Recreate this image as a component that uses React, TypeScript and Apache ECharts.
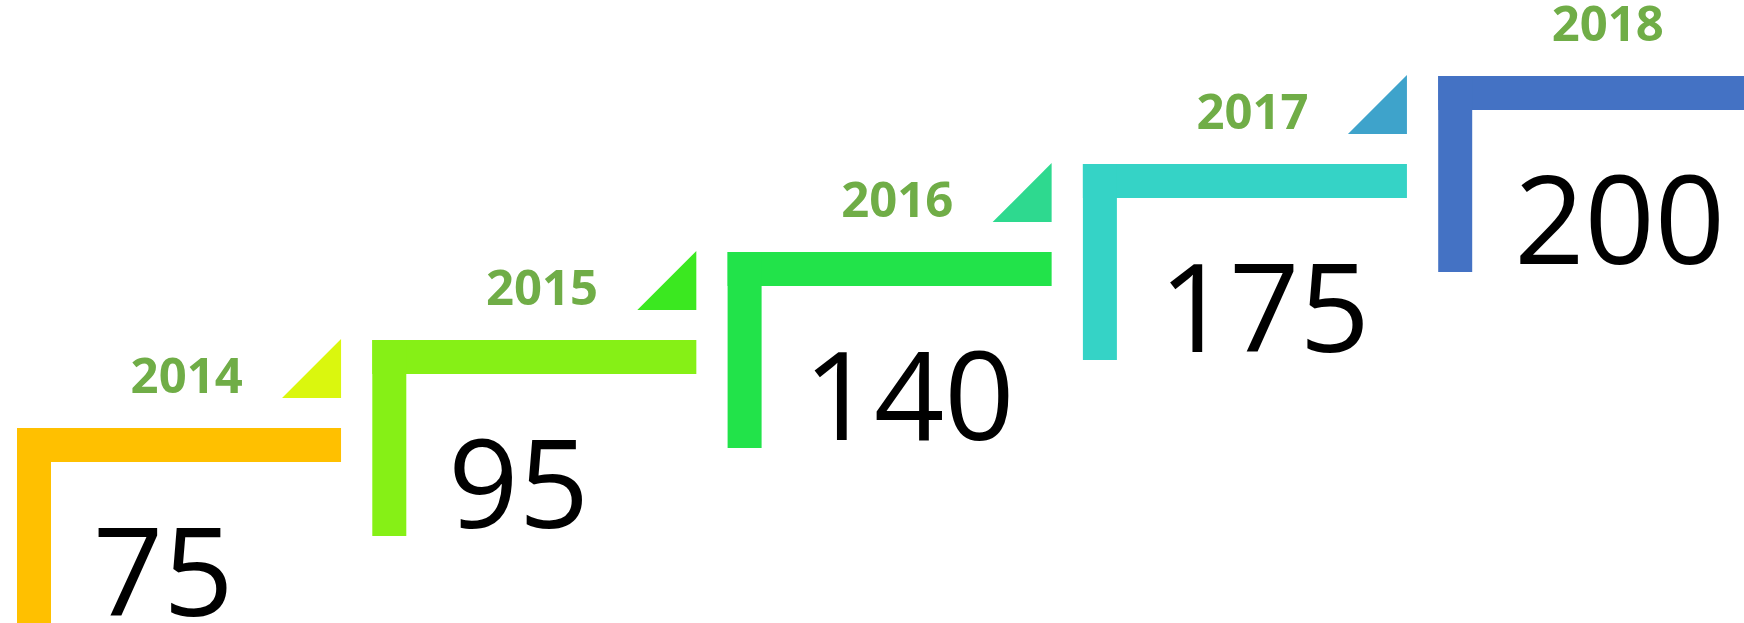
import React, { useEffect, useRef } from 'react';
import * as echarts from 'echarts';

// ---- data ----
const years: string[] = ['2014', '2015', '2016', '2017', '2018'];
const values: number[] = [75, 95, 140, 175, 200];
const levels: number[] = [0, 1, 2, 3, 4];

// ---- styles ----
const stepColors: string[] = ['#FFC000', '#86F016', '#22E34A', '#35D3C6', '#4472C4'];
const arrowColors: string[] = ['#DAF70E', '#3BE820', '#2ED98F', '#3EA3CB'];
const yearColor = '#70AD47';

const W = 1744;
const H = 623;
const GRID_LEFT = 17;
const STEP_PX = 355.3;

export default function App() {
  const ref = useRef<HTMLDivElement>(null);

  useEffect(() => {
    if (!ref.current) return;
    const chart = echarts.init(ref.current, null, { renderer: 'svg' });

    const renderItem = (params: any, api: any) => {
      const i = api.value(0);
      const level = api.value(1);
      const val = api.value(2);
      const [cx, cy] = api.coord([i, level]);
      const bw = api.size([1, 0])[0];
      const left = cx - bw / 2;
      const len = bw * 0.912;
      const th = 34;
      const vlen = 196;
      const tri = 59;
      const children: any[] = [
        { type: 'rect', shape: { x: left, y: cy, width: len, height: th }, style: { fill: stepColors[i] } },
        { type: 'rect', shape: { x: left, y: cy, width: th, height: vlen }, style: { fill: stepColors[i] } },
        {
          type: 'text',
          style: {
            text: years[i],
            x: cx - 8,
            y: cy - 54,
            fill: yearColor,
            fontSize: 49,
            fontWeight: 'bold',
            fontFamily: '"Open Sans", sans-serif',
            align: 'center',
            verticalAlign: 'middle',
          },
        },
        {
          type: 'text',
          style: {
            text: String(val),
            x: left + 76,
            y: cy + 140,
            fill: '#000000',
            fontSize: 123,
            fontFamily: '"Open Sans", sans-serif',
            align: 'left',
            verticalAlign: 'middle',
          },
        },
      ];
      if (i < arrowColors.length) {
        const r = left + len;
        children.push({
          type: 'polygon',
          shape: { points: [[r - tri, cy - 30], [r, cy - 30], [r, cy - 30 - tri]] },
          style: { fill: arrowColors[i] },
        });
      }
      return { type: 'group', children };
    };

    chart.setOption({
      animation: false,
      backgroundColor: '#ffffff',
      grid: { left: GRID_LEFT, top: 76, right: 0, height: 352 },
      xAxis: { type: 'value', min: -0.5, max: -0.5 + (W - GRID_LEFT) / STEP_PX, show: false },
      yAxis: { type: 'value', min: 0, max: 4, show: false },
      series: [
        {
          type: 'custom',
          clip: false,
          renderItem,
          data: years.map((y, i) => [i, levels[i], values[i]]),
        },
      ],
    });

    return () => chart.dispose();
  }, []);

  return (
    <div
      ref={ref}
      style={{ position: 'fixed', left: 0, top: 0, width: W, height: H }}
    />
  );
}
